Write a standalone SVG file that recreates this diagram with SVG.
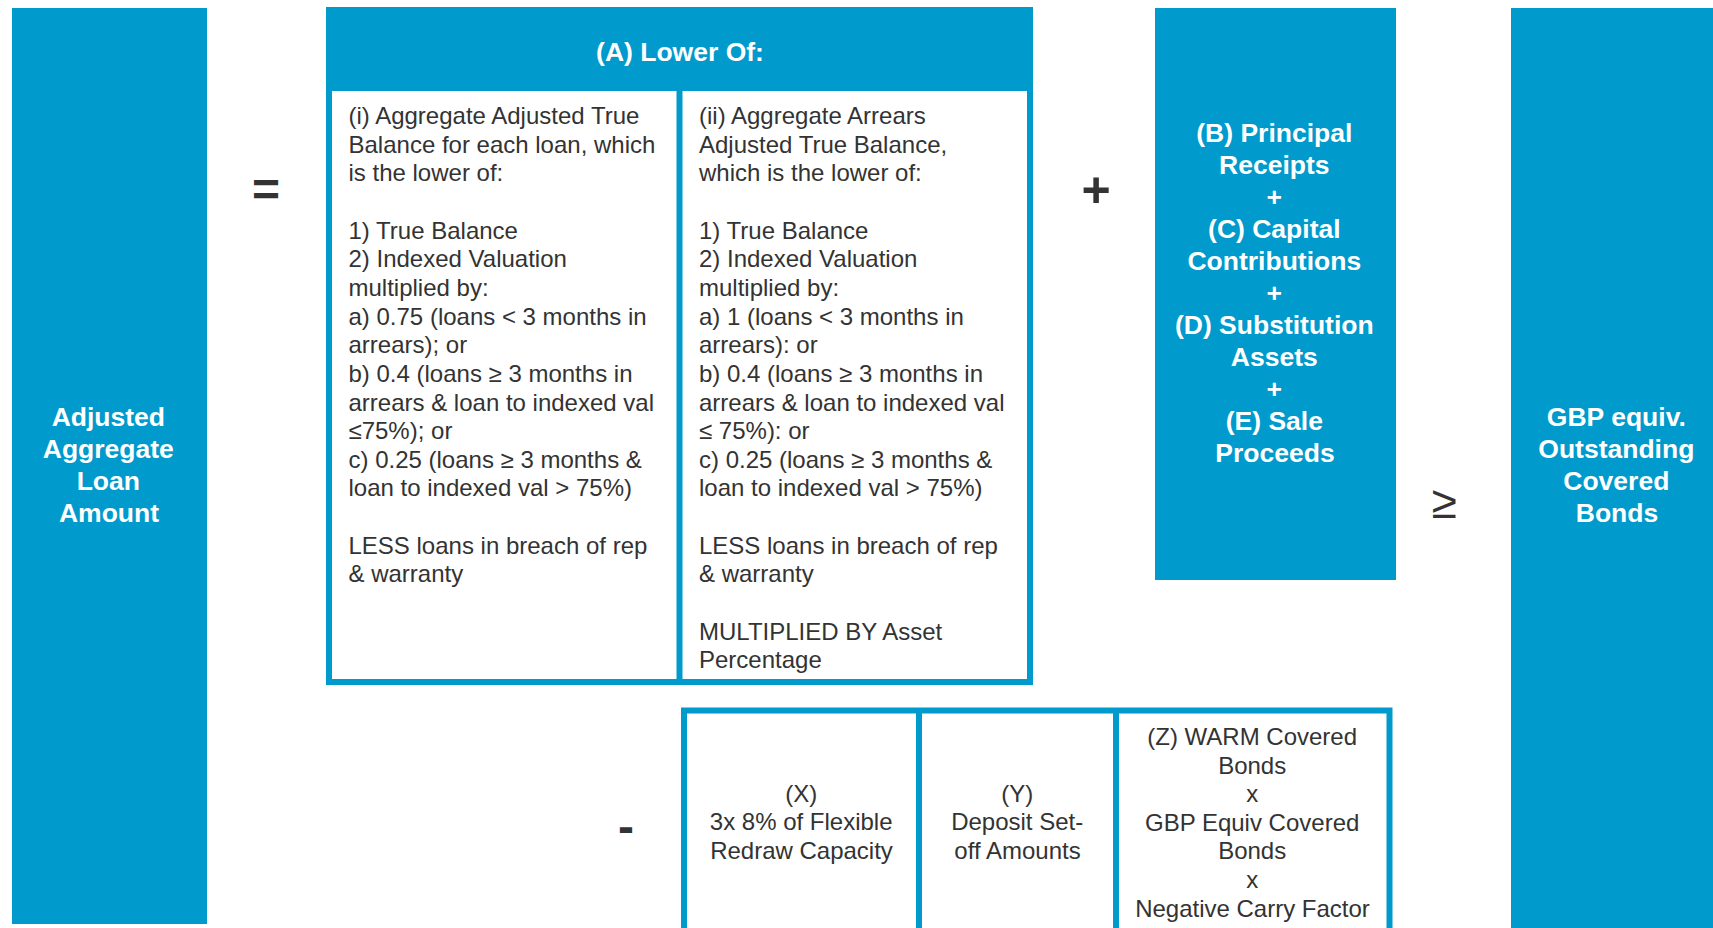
<svg xmlns="http://www.w3.org/2000/svg" width="1713" height="928" viewBox="0 0 1713 928">
  <style>
    .blue { fill: #009ACC; }
    .frame { fill: #FFFFFF; stroke: #009ACC; stroke-width: 6; }
    .div { stroke: #009ACC; stroke-width: 6; }
    .wt { font-family: "Liberation Sans", Arial, sans-serif; font-size: 26.5px; font-weight: bold; fill: #FFFFFF; text-anchor: middle; }
    .bt { font-family: "Liberation Sans", Arial, sans-serif; font-size: 24px; fill: #333333; }
    .ct { font-family: "Liberation Sans", Arial, sans-serif; font-size: 24px; fill: #333333; text-anchor: middle; }
    .op { font-family: "Liberation Sans", Arial, sans-serif; font-weight: bold; fill: #333333; text-anchor: middle; }
  </style>
  <rect width="1713" height="928" fill="#FFFFFF"/>

  <g id="node-adjusted-aggregate">
    <rect class="blue" x="12" y="8" width="195" height="916"/>
    <text class="wt">
      <tspan x="112" y="426">Adjusted</tspan>
      <tspan x="112" y="458">Aggregate</tspan>
      <tspan x="112" y="490">Loan</tspan>
      <tspan x="109" y="522">Amount</tspan>
    </text>
  </g>

  <g id="op-equals">
    <text class="op" x="266" y="206" font-size="48">=</text>
  </g>

  <g id="node-a-lower-of">
    <rect class="frame" x="329" y="10" width="701" height="672"/>
    <rect class="blue" x="326" y="7" width="707" height="84"/>
    <line class="div" x1="679.5" y1="91" x2="679.5" y2="682"/>
    <text class="wt" x="680" y="61">(A) Lower Of:</text>
    <text class="bt">
      <tspan x="348.5" y="124">(i) Aggregate Adjusted True</tspan>
      <tspan x="348.5" y="152.65">Balance for each loan, which</tspan>
      <tspan x="348.5" y="181.3">is the lower of:</tspan>
      <tspan x="348.5" y="238.6">1) True Balance</tspan>
      <tspan x="348.5" y="267.25">2) Indexed Valuation</tspan>
      <tspan x="348.5" y="295.9">multiplied by:</tspan>
      <tspan x="348.5" y="324.55">a) 0.75 (loans &lt; 3 months in</tspan>
      <tspan x="348.5" y="353.2">arrears); or</tspan>
      <tspan x="348.5" y="381.85">b) 0.4 (loans ≥ 3 months in</tspan>
      <tspan x="348.5" y="410.5">arrears &amp; loan to indexed val</tspan>
      <tspan x="348.5" y="439.15">≤75%); or</tspan>
      <tspan x="348.5" y="467.8">c) 0.25 (loans ≥ 3 months &amp;</tspan>
      <tspan x="348.5" y="496.45">loan to indexed val &gt; 75%)</tspan>
      <tspan x="348.5" y="553.75">LESS loans in breach of rep</tspan>
      <tspan x="348.5" y="582.4">&amp; warranty</tspan>
    </text>
    <text class="bt">
      <tspan x="699" y="124">(ii) Aggregate Arrears</tspan>
      <tspan x="699" y="152.65">Adjusted True Balance,</tspan>
      <tspan x="699" y="181.3">which is the lower of:</tspan>
      <tspan x="699" y="238.6">1) True Balance</tspan>
      <tspan x="699" y="267.25">2) Indexed Valuation</tspan>
      <tspan x="699" y="295.9">multiplied by:</tspan>
      <tspan x="699" y="324.55">a) 1 (loans &lt; 3 months in</tspan>
      <tspan x="699" y="353.2">arrears): or</tspan>
      <tspan x="699" y="381.85">b) 0.4 (loans ≥ 3 months in</tspan>
      <tspan x="699" y="410.5">arrears &amp; loan to indexed val</tspan>
      <tspan x="699" y="439.15">≤ 75%): or</tspan>
      <tspan x="699" y="467.8">c) 0.25 (loans ≥ 3 months &amp;</tspan>
      <tspan x="699" y="496.45">loan to indexed val &gt; 75%)</tspan>
      <tspan x="699" y="553.75">LESS loans in breach of rep</tspan>
      <tspan x="699" y="582.4">&amp; warranty</tspan>
      <tspan x="699" y="639.7">MULTIPLIED BY Asset</tspan>
      <tspan x="699" y="668.35">Percentage</tspan>
    </text>
  </g>

  <g id="op-plus">
    <text class="op" x="1096" y="207" font-size="50">+</text>
  </g>

  <g id="node-b-to-e">
    <rect class="blue" x="1155" y="8" width="241" height="572"/>
    <text class="wt">
      <tspan x="1278" y="142">(B) Principal</tspan>
      <tspan x="1278" y="174">Receipts</tspan>
      <tspan x="1278" y="206">+</tspan>
      <tspan x="1278" y="238">(C) Capital</tspan>
      <tspan x="1278" y="270">Contributions</tspan>
      <tspan x="1278" y="302">+</tspan>
      <tspan x="1278" y="334">(D) Substitution</tspan>
      <tspan x="1278" y="366">Assets</tspan>
      <tspan x="1278" y="398">+</tspan>
      <tspan x="1278" y="430">(E) Sale</tspan>
      <tspan x="1275" y="462">Proceeds</tspan>
    </text>
  </g>

  <g id="op-geq">
    <text x="1444" y="518" font-family="'Liberation Sans', Arial, sans-serif" font-size="46" fill="#333333" text-anchor="middle">≥</text>
  </g>

  <g id="node-gbp-outstanding">
    <rect class="blue" x="1511" y="8" width="214" height="930"/>
    <text class="wt">
      <tspan x="1620" y="426">GBP equiv.</tspan>
      <tspan x="1620" y="458">Outstanding</tspan>
      <tspan x="1620" y="490">Covered</tspan>
      <tspan x="1617" y="522">Bonds</tspan>
    </text>
  </g>

  <g id="op-minus">
    <text class="op" x="626" y="843" font-size="48">-</text>
  </g>

  <g id="node-deductions">
    <rect class="frame" x="684" y="710.5" width="705.5" height="240"/>
    <line class="div" x1="919" y1="710.5" x2="919" y2="940"/>
    <line class="div" x1="1116" y1="710.5" x2="1116" y2="940"/>
  </g>
  <g id="node-x">
    <text class="ct">
      <tspan x="804.5" y="801.5">(X)</tspan>
      <tspan x="804.5" y="830">3x 8% of Flexible</tspan>
      <tspan x="801.5" y="858.5">Redraw Capacity</tspan>
    </text>
  </g>
  <g id="node-y">
    <text class="ct">
      <tspan x="1020.5" y="801.5">(Y)</tspan>
      <tspan x="1020.5" y="830">Deposit Set-</tspan>
      <tspan x="1017.5" y="858.5">off Amounts</tspan>
    </text>
  </g>
  <g id="node-z">
    <text class="ct">
      <tspan x="1255.5" y="745">(Z) WARM Covered</tspan>
      <tspan x="1255.5" y="773.6">Bonds</tspan>
      <tspan x="1255.5" y="802.2">x</tspan>
      <tspan x="1255.5" y="830.8">GBP Equiv Covered</tspan>
      <tspan x="1255.5" y="859.4">Bonds</tspan>
      <tspan x="1255.5" y="888">x</tspan>
      <tspan x="1252.5" y="916.6">Negative Carry Factor</tspan>
    </text>
  </g>

  <g id="connectors"></g>
</svg>
